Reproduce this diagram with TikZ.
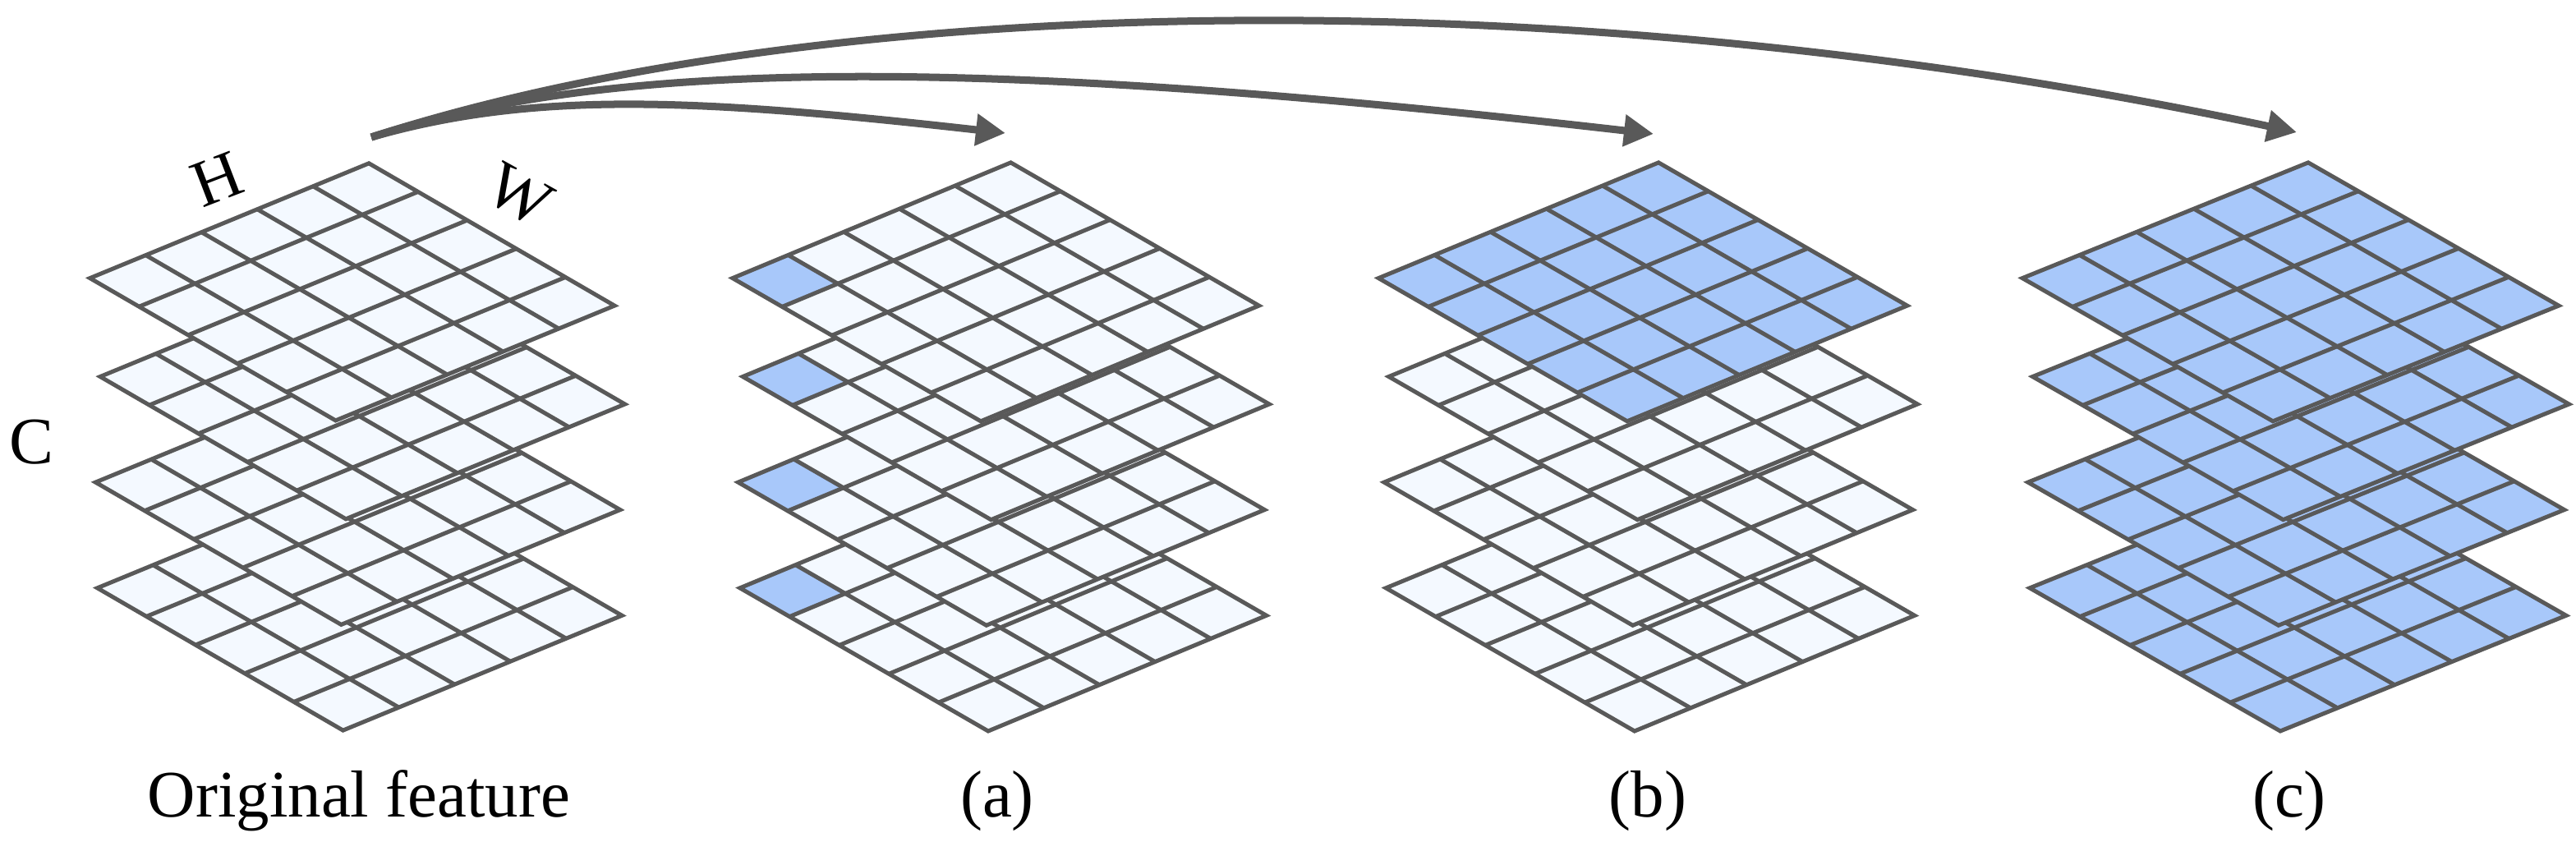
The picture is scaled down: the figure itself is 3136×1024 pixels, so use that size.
\documentclass[tikz,border=0pt]{standalone}
\usepackage{fontspec}
\setmainfont{Liberation Serif}
\newfontfamily\timeslike{Liberation Serif}
\usetikzlibrary{arrows.meta}
\definecolor{linegray}{RGB}{89,89,89}
\definecolor{celllight}{RGB}{244,249,255}
\definecolor{cellblue}{RGB}{168,200,250}
\tikzset{
  gridline/.style={draw=linegray, line width=0.05cm, line join=miter},
  lbl/.style={font=\timeslike\fontsize{23}{27}\selectfont, inner sep=0pt},
  flowarrow/.style={draw=linegray, line width=0.09cm, -{Triangle[length=0.36cm,width=0.37cm]}},
}
% one layer: #1,#2 left vertex (px, screen), #3,#4 H-edge vector (px, y up), #5,#6 W-edge vector (px, y up), #7 fill, #8 corner cell blue (1/0)
\newcommand\gridlayer[8]{%
  \begin{scope}[shift={(#1,#2)}, x={(#3*0.002cm,#4*0.002cm)}, y={(#5*0.002cm,#6*0.002cm)}]
    \fill[#7] (0,0) -- (5,0) -- (5,5) -- (0,5) -- cycle;
    \ifnum#8=1 \fill[cellblue] (0,0) -- (1,0) -- (1,1) -- (0,1) -- cycle;\fi
    \foreach \k in {1,...,4} {\draw[gridline] (\k,0) -- (\k,5); \draw[gridline] (0,\k) -- (5,\k);}
    \draw[gridline] (0,0) -- (5,0) -- (5,5) -- (0,5) -- cycle;
  \end{scope}}
% stack of four layers: #7 top fill, #8 other fills, #9 corner flag
\newcommand\featurestack[9]{%
  \gridlayer{#1+9}{#2+377.2}{#3}{#4}{#5}{#6}{#8}{#9}
  \gridlayer{#1+6.8}{#2+248.5}{#3}{#4}{#5}{#6}{#8}{#9}
  \gridlayer{#1+12.5}{#2+119.9}{#3}{#4}{#5}{#6}{#8}{#9}
  \gridlayer{#1}{#2}{#3}{#4}{#5}{#6}{#7}{#9}}
\begin{document}
\begin{tikzpicture}[x=0.01cm, y=-0.01cm]
  \useasboundingbox (0,0) rectangle (3136,1024);
  \fill[white] (0,0) rectangle (3136,1024);
  % stacks
  \featurestack{109.5}{338.6}{339.6}{139.8}{299.1}{-173.3}{celllight}{celllight}{0}
  \featurestack{891.8}{338.6}{338.7}{140.7}{302.2}{-174.2}{celllight}{celllight}{1}
  \featurestack{1678.2}{338.6}{340.9}{140.7}{302.7}{-174.2}{cellblue}{celllight}{0}
  \featurestack{2462}{338.6}{348}{140.7}{305}{-174.2}{cellblue}{cellblue}{0}
  % labels
  \node[lbl, rotate=21] (hlab) at (264,218) {H};
  \node[lbl, rotate=-29] (wlab) at (632,237) {W};
  \node[lbl] (clab) at (38,538) {C};
  \node[lbl, anchor=base] (origlab) at (437,994) {Original feature};
  \node[lbl, anchor=base] (alab) at (1214,994) {(a)};
  \node[lbl, anchor=base] (blab) at (2006,994) {(b)};
  \node[lbl, anchor=base] (clab2) at (2787,994) {(c)};
  % arrows
  \coordinate (src) at (452,167);
  \coordinate (ta) at (1224,162);
  \coordinate (tb) at (2013,163);
  \coordinate (tc) at (2796,161);
  \draw[flowarrow] (src) .. controls (650,110) and (850,120) .. (ta);
  \draw[flowarrow] (src) .. controls (750,70) and (1200,70) .. (tb);
  \draw[flowarrow] (src) .. controls (1000,-10) and (1900,-30) .. (tc);
\end{tikzpicture}
\end{document}
